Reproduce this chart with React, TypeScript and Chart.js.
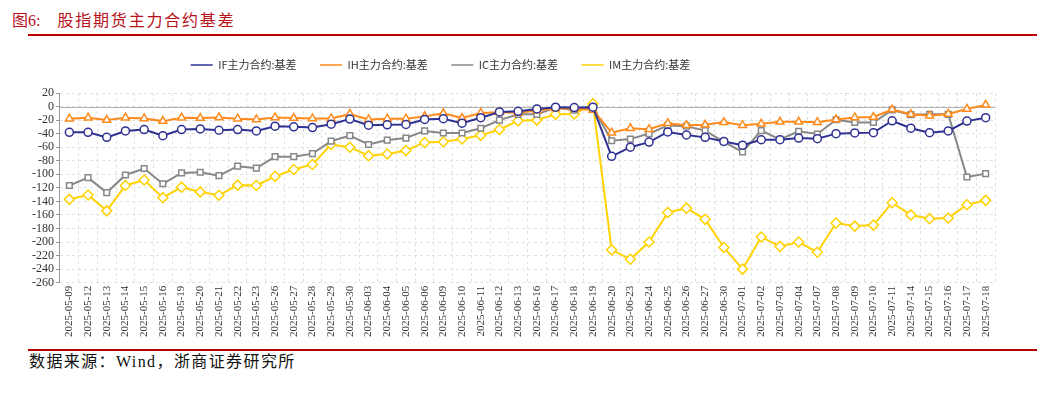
import React, { useEffect, useRef } from 'react';
import { Chart, registerables } from 'chart.js';
Chart.register(...registerables);

const dates = [
  '2025-05-09', '2025-05-12', '2025-05-13', '2025-05-14', '2025-05-15', '2025-05-16', '2025-05-19', '2025-05-20',
  '2025-05-21', '2025-05-22', '2025-05-23', '2025-05-26', '2025-05-27', '2025-05-28', '2025-05-29', '2025-05-30',
  '2025-06-03', '2025-06-04', '2025-06-05', '2025-06-06', '2025-06-09', '2025-06-10', '2025-06-11', '2025-06-12',
  '2025-06-13', '2025-06-16', '2025-06-17', '2025-06-18', '2025-06-19', '2025-06-20', '2025-06-23', '2025-06-24',
  '2025-06-25', '2025-06-26', '2025-06-27', '2025-06-30', '2025-07-01', '2025-07-02', '2025-07-03', '2025-07-04',
  '2025-07-07', '2025-07-08', '2025-07-09', '2025-07-10', '2025-07-11', '2025-07-14', '2025-07-15', '2025-07-16',
  '2025-07-17', '2025-07-18',
];

const ifBasis = [
  -38, -38, -45.5, -36, -34, -43, -34, -33, -35, -34, -36, -29, -30, -31, -26, -18.5,
  -27.5, -27, -26.5, -19, -18, -24.5, -16.5, -8, -7, -3.5, -1, -1.5, -1, -73.5, -60, -52.5, -37.5, -42, -45.5, -51.5,
  -57, -49, -49, -46.5, -47.5, -40, -39, -38.5, -21, -32, -38.5, -36, -21.5, -16.5,
];

const ihBasis = [
  -18, -16.5, -20, -16.5, -17.5, -21.5, -16.5, -17, -16, -18, -19, -16, -17, -17.5, -17.5, -11,
  -19, -18, -18, -14.5, -10, -17, -9.5, -8.5, -9, -6, -3, -3, -5, -38.5, -32, -33.5, -24.5, -27.5, -27, -23,
  -27.5, -25.5, -22.5, -22.5, -23, -19, -16, -15.5, -4.5, -11.5, -13.5, -11, -3.5, 2.5,
];

const icBasis = [
  -116.5, -105, -127, -101, -91.5, -114, -98, -97, -102, -88, -91, -74, -74, -69.5, -51, -43,
  -56, -49.5, -46.5, -36, -39, -39, -32, -20, -11.5, -11.5, -1.5, -5.5, -1, -50.5, -48, -40, -28, -29, -35.5, -52,
  -67, -35.5, -48.5, -36.5, -40.5, -19.5, -23.5, -23.5, -5, -12, -11.5, -11.5, -104, -99,
];

const imBasis = [
  -137, -130.5, -154, -116.5, -108.5, -134.5, -119, -126, -131, -116, -116.5, -103, -93, -85.5, -56, -60,
  -72.5, -70, -65, -53, -52, -48, -42.5, -34, -21, -20, -11.5, -11, 4, -211.5, -225.5, -200, -156.5, -150, -166.5, -208,
  -240, -192.5, -206.5, -200, -215, -172, -176.5, -175, -142, -160, -165.5, -164.5, -145, -138.5,
];

const seriesNames = ['IF主力合约:基差', 'IH主力合约:基差', 'IC主力合约:基差', 'IM主力合约:基差'];
const yTicks = { min: -260, max: 20, step: 20 };

const serif = '"Liberation Serif", "Times New Roman", "Noto Sans CJK SC", serif';

export default function App() {
  const ref = useRef<HTMLCanvasElement | null>(null);

  useEffect(() => {
    document.body.style.margin = '0';
    const LEGEND_H = 48;
    const LEGEND_TOP = -9;
    const LEGEND_DX = -72;
    const legendPlace = {
      id: 'legendPlace',
      beforeInit(chart: any) {
        const lg = chart.legend;
        if (lg && !lg.__wrapped) {
          const orig = lg.fit;
          lg.fit = function () {
            orig.call(this);
            this.height = LEGEND_H;
          };
          lg.__wrapped = true;
        }
      },
      afterLayout(chart: any) {
        const lg = chart.legend;
        if (!lg) return;
        const h = lg.bottom - lg.top;
        lg.top = LEGEND_TOP;
        lg.bottom = LEGEND_TOP + h;
        lg.left += LEGEND_DX;
        lg.right += LEGEND_DX;
      },
    };
    const zeroLine = {
      id: 'zeroLine',
      beforeDatasetsDraw(chart: any) {
        const { ctx, chartArea } = chart;
        const y = Math.round(chart.scales.y.getPixelForValue(0)) + 0.5;
        ctx.save();
        ctx.strokeStyle = '#b0b0b0';
        ctx.lineWidth = 1;
        ctx.setLineDash([]);
        ctx.beginPath();
        ctx.moveTo(chartArea.left, y);
        ctx.lineTo(chartArea.right, y);
        ctx.stroke();
        ctx.restore();
      },
    };
    const mk = (label: string, data: number[], color: string, pointStyle: string, radius: number) => ({
      label,
      data,
      borderColor: color,
      backgroundColor: '#ffffff',
      pointBorderColor: color,
      pointBackgroundColor: '#ffffff',
      borderWidth: 2,
      pointBorderWidth: 1.5,
      pointRadius: radius,
      pointStyle,
      tension: 0,
    });
    const chart = new Chart(ref.current as HTMLCanvasElement, {
      type: 'line',
      data: {
        labels: dates,
        datasets: [
          mk(seriesNames[0], ifBasis, '#2e3192', 'circle', 4),
          mk(seriesNames[1], ihBasis, '#ff8a1c', 'triangle', 4.5),
          mk(seriesNames[2], icBasis, '#878787', 'rect', 4),
          mk(seriesNames[3], imBasis, '#ffd200', 'rectRot', 5),
        ],
      },
      options: {
        responsive: false,
        animation: false,
        layout: { padding: { left: 30, right: 58, top: 0, bottom: 10 } },
        plugins: {
          legend: {
            display: true,
            position: 'top',
            labels: {
              usePointStyle: true,
              pointStyle: 'line',
              pointStyleWidth: 22,
              padding: 23.5,
              color: '#333',
              font: { family: '"Noto Sans CJK SC", sans-serif', size: 11 },
            },
          },
          tooltip: { enabled: false },
        },
        scales: {
          x: {
            offset: true,
            grid: { offset: true, color: '#e2e2e2', drawTicks: false, borderDash: [3, 3] } as any,
            border: { display: false, dash: [3, 3] },
            ticks: {
              autoSkip: false,
              maxRotation: 90,
              minRotation: 90,
              padding: 3,
              color: '#333',
              font: { family: serif, size: 11 },
            },
          },
          y: {
            min: yTicks.min,
            max: yTicks.max,
            ticks: {
              stepSize: yTicks.step,
              autoSkip: false,
              color: '#333',
              padding: 2,
              font: { family: serif, size: 12 },
            },
            grid: { color: '#e2e2e2', tickLength: 4, tickColor: '#999', borderDash: [3, 3] } as any,
            border: { display: true, color: '#999', dash: [3, 3] },
          },
        },
      },
      plugins: [legendPlace, zeroLine],
    });
    return () => chart.destroy();
  }, []);

  return (
    <div style={{ position: 'relative', width: 1053, height: 393, background: '#fff', overflow: 'hidden' }}>
      <div
        style={{
          position: 'absolute', left: 12, top: 11, fontFamily: serif, fontSize: 16, lineHeight: '20px',
          color: '#b8121b', whiteSpace: 'nowrap',
        }}
      >
        <span>图6:</span>
        <span style={{ marginLeft: 17, letterSpacing: 1.8 }}>股指期货主力合约基差</span>
      </div>
      <div style={{ position: 'absolute', left: 28, top: 34, width: 1009, height: 2, background: '#c00000' }} />
      <canvas ref={ref} width={1053} height={305} style={{ position: 'absolute', left: 0, top: 45 }} />
      <div style={{ position: 'absolute', left: 28, top: 349, width: 1009, height: 1.5, background: '#b00000' }} />
      <div
        style={{
          position: 'absolute', left: 29, top: 352, fontFamily: serif, fontSize: 16, lineHeight: '20px',
          color: '#111', whiteSpace: 'nowrap', letterSpacing: 1.4,
        }}
      >
        数据来源：Wind，浙商证券研究所
      </div>
    </div>
  );
}
